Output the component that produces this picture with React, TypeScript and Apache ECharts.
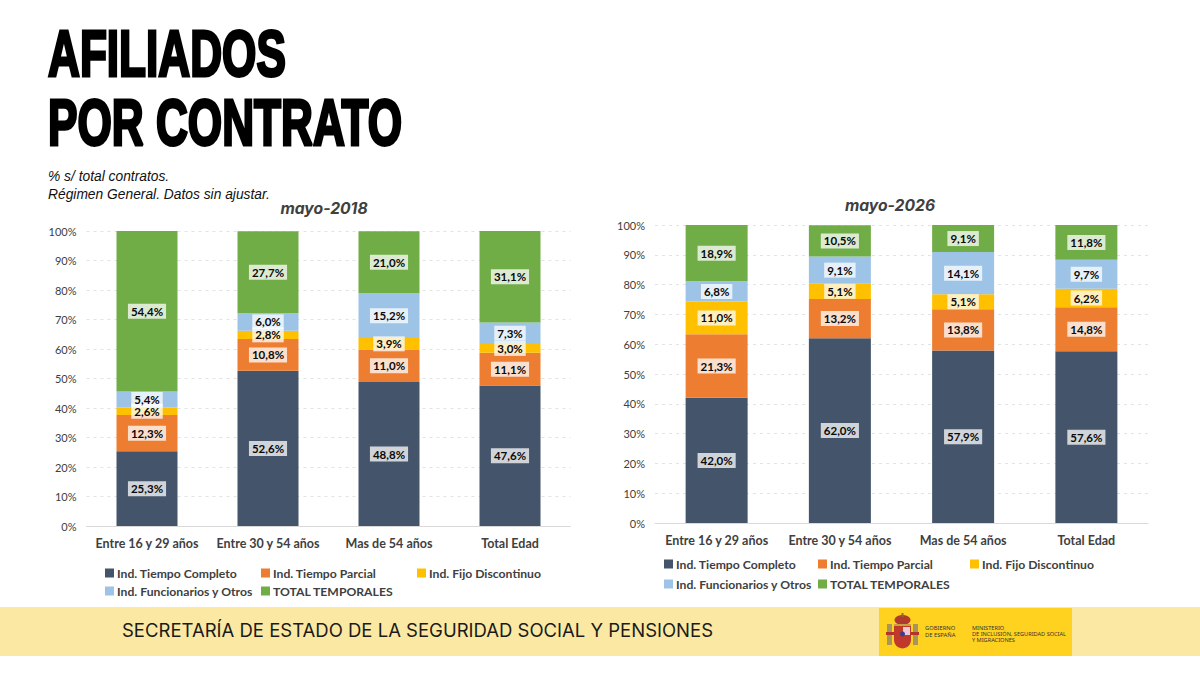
import React, { useEffect, useRef } from "react";
import * as echarts from "echarts";

const categories = ["Entre 16 y 29 años", "Entre 30 y 54 años", "Mas de 54 años", "Total Edad"];
const seriesNames = ["Ind. Tiempo Completo", "Ind. Tiempo Parcial", "Ind. Fijo Discontinuo", "Ind. Funcionarios y Otros", "TOTAL TEMPORALES"];
const colors = ["#44546A", "#ED7D31", "#FFC000", "#9DC3E6", "#70AD47"];

const completo2018 = [25.3, 52.6, 48.8, 47.6];
const parcial2018 = [12.3, 10.8, 11.0, 11.1];
const fijo2018 = [2.6, 2.8, 3.9, 3.0];
const funcionarios2018 = [5.4, 6.0, 15.2, 7.3];
const temporales2018 = [54.4, 27.7, 21.0, 31.1];

const completo2026 = [42.0, 62.0, 57.9, 57.6];
const parcial2026 = [21.3, 13.2, 13.8, 14.8];
const fijo2026 = [11.0, 5.1, 5.1, 6.2];
const funcionarios2026 = [6.8, 9.1, 14.1, 9.7];
const temporales2026 = [18.9, 10.5, 9.1, 11.8];

const data2018 = [completo2018, parcial2018, fijo2018, funcionarios2018, temporales2018];
const data2026 = [completo2026, parcial2026, fijo2026, funcionarios2026, temporales2026];

const LABEL_FONT = "Lato";

function makeAxes(i: number) {
  return {
    x: {
      type: "category", gridIndex: i, data: categories,
      axisTick: { show: false },
      axisLine: { lineStyle: { color: "#D9D9D9" } },
      axisLabel: { color: "#404040", fontFamily: LABEL_FONT, fontWeight: "bold", fontSize: 12.5, margin: 11, interval: 0 },
    },
    y: {
      type: "value", gridIndex: i, min: 0, max: 100, interval: 10,
      axisLine: { show: false }, axisTick: { show: false },
      splitLine: { lineStyle: { color: "#E3E3E3", type: [3, 4], width: 1 } },
      axisLabel: { color: "#404040", fontFamily: LABEL_FONT, fontSize: 11, formatter: "{value}%", margin: 10 },
    },
  };
}

function makeSeries(values: number[][], i: number, barWidth: number) {
  return values.map((d, k) => ({
    name: seriesNames[k], type: "bar", stack: "s" + i, xAxisIndex: i, yAxisIndex: i, data: d, barWidth,
    itemStyle: { color: colors[k] },
    label: {
      show: true, position: "inside", color: "#0A0A0A", fontFamily: LABEL_FONT, fontWeight: "bold", fontSize: 11.5,
      backgroundColor: "rgba(255,255,255,0.75)", padding: [2, 3, 1, 3],
      formatter: (p: any) => p.value.toFixed(1).replace(".", ",") + "%",
    },
  }));
}

function makeLegends(pos: number[][]) {
  return seriesNames.map((n, k) => ({
    data: [n], left: pos[k][0], top: pos[k][1], itemWidth: 9, itemHeight: 9, itemGap: 0, padding: 0,
    icon: "rect", selectedMode: false,
    textStyle: { color: "#404040", fontFamily: LABEL_FONT, fontWeight: "bold", fontSize: 12.2, padding: [0, 0, 0, -2] },
  }));
}

export default function App() {
  const ref = useRef<HTMLDivElement>(null);
  useEffect(() => {
    document.body.style.margin = "0";
    const chart = echarts.init(ref.current!, undefined, { renderer: "svg" });
    const a0 = makeAxes(0), a1 = makeAxes(1);
    const titleText = (text: string, y: number) => ({
      type: "text", x: 48, y, scaleX: 0.69, scaleY: 1,
      style: { text, fontFamily: "Liberation Sans", fontWeight: "bold", fontSize: 64, fill: "#000", stroke: "#000", lineWidth: 3, textVerticalAlign: "middle", verticalAlign: "middle" },
    });
    const note = (text: string, top: number) => ({
      type: "text", left: 48, top,
      style: { text, fontFamily: "Liberation Sans", fontStyle: "italic", fontSize: 13.8, fill: "#111" },
    });
    const chartTitle = (text: string, left: number, top: number) => ({
      text, left, top, padding: 0, textAlign: "center",
      textStyle: { fontFamily: "Inter", fontStyle: "italic", fontWeight: "bold", fontSize: 15.7, color: "#404040" },
    });
    chart.setOption({
      animation: false,
      backgroundColor: "#FFFFFF",
      title: [chartTitle("mayo-2018", 324, 200), chartTitle("mayo-2026", 890, 197)],
      grid: [
        { left: 86.5, top: 231, width: 484, height: 295 },
        { left: 655, top: 225, width: 493, height: 298 },
      ],
      xAxis: [a0.x, a1.x],
      yAxis: [a0.y, a1.y],
      legend: [
        ...makeLegends([[105, 567], [261, 567], [417, 567], [105, 585], [261, 585]]),
        ...makeLegends([[664, 558], [818, 558], [970, 558], [664, 578], [818, 578]]),
      ],
      series: [...makeSeries(data2018, 0, 61), ...makeSeries(data2026, 1, 62)],
      graphic: [
        titleText("AFILIADOS", 54),
        titleText("POR CONTRATO", 123),
        note("% s/ total contratos.", 169),
        note("Régimen General. Datos sin ajustar.", 187),
        { type: "rect", shape: { x: 0, y: 607, width: 1200, height: 49 }, style: { fill: "#FBE9A3" } },
        { type: "text", left: 122, top: 620, style: { text: "SECRETARÍA DE ESTADO DE LA SEGURIDAD SOCIAL Y PENSIONES", fontFamily: "Inter", fontSize: 18.5, fill: "#1A1A1A" } },
        { type: "rect", shape: { x: 879, y: 608, width: 193, height: 48 }, style: { fill: "#FFD21F" } },
        // crest
        { type: "rect", shape: { x: 887, y: 624, width: 5, height: 21 }, style: { fill: "#A8955E" } },
        { type: "rect", shape: { x: 913, y: 624, width: 5, height: 21 }, style: { fill: "#A8955E" } },
        { type: "rect", shape: { x: 886, y: 632, width: 8, height: 3 }, style: { fill: "#B5342A" } },
        { type: "rect", shape: { x: 911, y: 632, width: 8, height: 3 }, style: { fill: "#B5342A" } },
        { type: "ellipse", shape: { cx: 902.5, cy: 620, rx: 8, ry: 5 }, style: { fill: "#B03A2E" } },
        { type: "rect", shape: { x: 901.5, y: 613, width: 2, height: 4 }, style: { fill: "#8A6D2F" } },
        { type: "rect", shape: { x: 894, y: 624, width: 17, height: 2 }, style: { fill: "#C9A13A" } },
        { type: "rect", shape: { x: 894, y: 626, width: 17, height: 14 }, style: { fill: "#C0392B" } },
        { type: "circle", shape: { cx: 902.5, cy: 640, r: 8.5 }, style: { fill: "#C0392B" } },
        { type: "rect", shape: { x: 903, y: 627, width: 7, height: 8 }, style: { fill: "#E8C9D4" } },
        { type: "circle", shape: { cx: 902.5, cy: 634, r: 2.5 }, style: { fill: "#3B3F8F" } },
        { type: "text", left: 925, top: 625, style: { text: "GOBIERNO\nDE ESPAÑA", fontFamily: "Noto Sans", fontSize: 5.8, lineHeight: 6.5, fill: "#333" } },
        { type: "text", left: 972, top: 625, style: { text: "MINISTERIO\nDE INCLUSIÓN, SEGURIDAD SOCIAL\nY MIGRACIONES", fontFamily: "Noto Sans", fontSize: 5.6, lineHeight: 6, fill: "#333" } },
      ],
    });
    return () => chart.dispose();
  }, []);
  return <div ref={ref} style={{ position: "absolute", left: 0, top: 0, width: 1200, height: 675 }} />;
}
